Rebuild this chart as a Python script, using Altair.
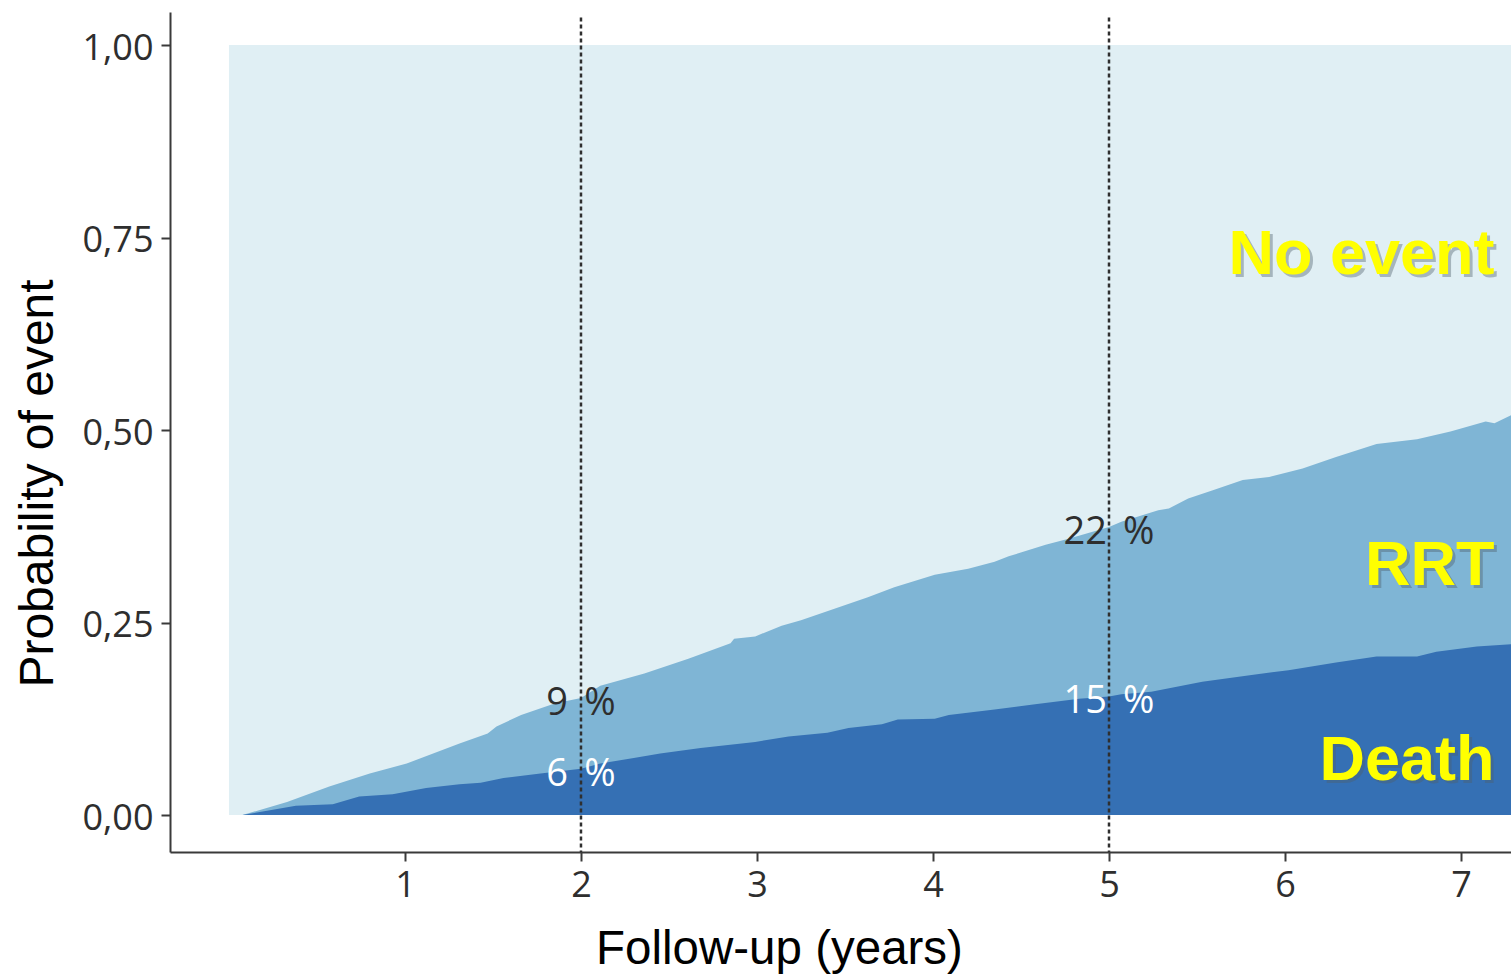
import altair as alt
import pandas as pd

# Cumulative probability of any event (death or RRT), by follow-up time in years
any_years = [0, 0.077, 0.33, 0.57, 0.80, 1.01, 1.31, 1.47, 1.52, 1.66, 1.85, 2.0,
             2.11, 2.36, 2.61, 2.85, 2.87, 2.99, 3.14, 3.25, 3.44, 3.63, 3.78, 4.01,
             4.20, 4.35, 4.43, 4.64, 4.77, 5.0, 5.07, 5.28, 5.34, 5.45, 5.59, 5.76,
             5.91, 6.10, 6.29, 6.52, 6.75, 6.94, 7.14, 7.19, 7.30]
any_prob = [0, 0, 0.017, 0.037, 0.054, 0.067, 0.093, 0.106, 0.115, 0.130, 0.145, 0.152,
            0.168, 0.184, 0.203, 0.223, 0.229, 0.232, 0.246, 0.253, 0.268, 0.283, 0.296, 0.312,
            0.320, 0.329, 0.336, 0.351, 0.359, 0.374, 0.381, 0.396, 0.398, 0.411, 0.422, 0.435,
            0.439, 0.450, 0.465, 0.482, 0.488, 0.498, 0.511, 0.509, 0.521]

# Cumulative probability of death
death_years = [0, 0.077, 0.38, 0.59, 0.74, 0.93, 1.12, 1.31, 1.43, 1.56, 1.77, 2.0,
               2.11, 2.30, 2.45, 2.68, 2.99, 3.18, 3.40, 3.52, 3.71, 3.80, 4.01, 4.09,
               4.35, 4.58, 4.83, 5.0, 5.07, 5.24, 5.53, 5.81, 6.02, 6.29, 6.52, 6.75,
               6.86, 7.09, 7.30]
death_prob = [0, 0, 0.012, 0.014, 0.024, 0.027, 0.035, 0.040, 0.042, 0.048, 0.054, 0.060,
              0.067, 0.074, 0.080, 0.087, 0.095, 0.102, 0.107, 0.113, 0.118, 0.124, 0.125, 0.130,
              0.137, 0.144, 0.151, 0.154, 0.157, 0.160, 0.173, 0.182, 0.188, 0.198, 0.206, 0.206,
              0.212, 0.219, 0.222]

# Estimates at the 2- and 5-year landmarks
landmark_years = [2, 5]
landmark_death = [0.06, 0.154]
landmark_rrt = [0.092, 0.220]

# State names with their anchor points (right edge, baseline)
state_names = ["No event", "RRT", "Death"]
state_x = [7.19, 7.19, 7.19]
state_y = [0.703, 0.299, 0.0455]

x_ticks = [1, 2, 3, 4, 5, 6, 7]
y_ticks = [0, 0.25, 0.5, 0.75, 1.0]

LIGHT = "#E0EFF4"
MID = "#7FB5D5"
DARK = "#3570B4"
INK = "#2e2e2e"
AXIS = "#3a3a3a"

any_df = pd.DataFrame({"t": any_years, "p": any_prob})
death_df = pd.DataFrame({"t": death_years, "p": death_prob})
land_df = pd.DataFrame({
    "t": landmark_years,
    "death": landmark_death,
    "any": [d + r for d, r in zip(landmark_death, landmark_rrt)],
    "death_lbl": [f"{round(d * 100)}\u2009 %" for d in landmark_death],
    "rrt_lbl": [f"{round(r * 100)}\u2009 %" for r in landmark_rrt],
})
state_df = pd.DataFrame({"name": state_names, "x": state_x, "y": state_y})
frame_df = pd.DataFrame({"x": [0], "x2": [7.6], "y": [0], "y2": [1]})

x_scale = alt.Scale(domain=[-0.335, 7.284], nice=False, zero=False)
y_scale = alt.Scale(domain=[-0.048, 1.043], nice=False, zero=False)

x_axis = alt.Axis(
    values=x_ticks, format="d", title="Follow-up (years)", grid=False,
    domainColor=AXIS, domainWidth=2, tickColor=AXIS, tickWidth=2, tickSize=9,
    labelFont="Open Sans", labelFontSize=36, labelColor=INK, labelPadding=7,
    labelFlush=False, labelOverlap=False,
    titleFont="Liberation Sans", titleFontSize=47.5, titleFontWeight="normal",
    titleColor="#000000", titleX=609, titleY=111, titleAlign="center",
    titleBaseline="alphabetic",
)
y_axis = alt.Axis(
    values=y_ticks, title="Probability of event", grid=False,
    labelExpr="replace(format(datum.value, '.2f'), '.', ',')",
    domainColor=AXIS, domainWidth=2, tickColor=AXIS, tickWidth=2, tickSize=9,
    labelFont="Open Sans", labelFontSize=36, labelColor=INK, labelPadding=8,
    labelFlush=False, labelOverlap=False, labelBaseline="middle", labelOffset=3,
    titleFont="Liberation Sans", titleFontSize=48, titleFontWeight="normal",
    titleColor="#000000", titleAngle=270, titleX=-118, titleY=471,
    titleAlign="center", titleBaseline="alphabetic",
)


def X(field):
    return alt.X(field, scale=x_scale, axis=x_axis, title="Follow-up (years)")


def Y(field):
    return alt.Y(field, scale=y_scale, axis=y_axis, title="Probability of event")


# whole sample space (no event)
frame = alt.Chart(frame_df).mark_rect(color=LIGHT, clip=True).encode(
    x=X("x:Q"), x2="x2:Q", y=Y("y:Q"), y2="y2:Q",
)

any_area = alt.Chart(any_df).mark_area(color=MID, clip=True).encode(
    x=X("t:Q"), y=Y("p:Q"), y2=alt.datum(0)
)
death_area = alt.Chart(death_df).mark_area(color=DARK, clip=True).encode(
    x=X("t:Q"), y=Y("p:Q"), y2=alt.datum(0)
)

landmarks = alt.Chart(land_df).mark_rule(
    color="#2f2f2f", strokeWidth=2.5, strokeDash=[4, 3]
).encode(x=X("t:Q"), y=alt.datum(1.036), y2=alt.datum(-0.048))

txt = dict(font="Open Sans", fontSize=38, align="center", baseline="middle", dy=6)
rrt_text = alt.Chart(land_df).mark_text(color=INK, **txt).encode(
    x=X("t:Q"), y=Y("any:Q"), text="rrt_lbl:N"
)
death_text = alt.Chart(land_df).mark_text(color="white", **txt).encode(
    x=X("t:Q"), y=Y("death:Q"), text="death_lbl:N"
)

big = dict(font="Liberation Sans", fontSize=63, fontWeight="bold",
           align="right", baseline="alphabetic")
state_shadow = alt.Chart(state_df).mark_text(
    color="#4f5f6b", opacity=0.4, dx=3, dy=3, **big
).encode(x=X("x:Q"), y=Y("y:Q"), text="name:N")
state_text = alt.Chart(state_df).mark_text(color="#FFFF00", **big).encode(
    x=X("x:Q"), y=Y("y:Q"), text="name:N"
)

chart = alt.layer(
    frame, any_area, death_area, landmarks, rrt_text, death_text,
    state_shadow, state_text,
).properties(
    width=1341, height=840,
    padding={"left": 170, "top": 12, "right": 0, "bottom": 122},
    autosize=alt.AutoSizeParams(type="none"),
    background="white",
).configure_view(stroke=None)

chart.save("out.html", embed_options={"renderer": "svg", "actions": False})
